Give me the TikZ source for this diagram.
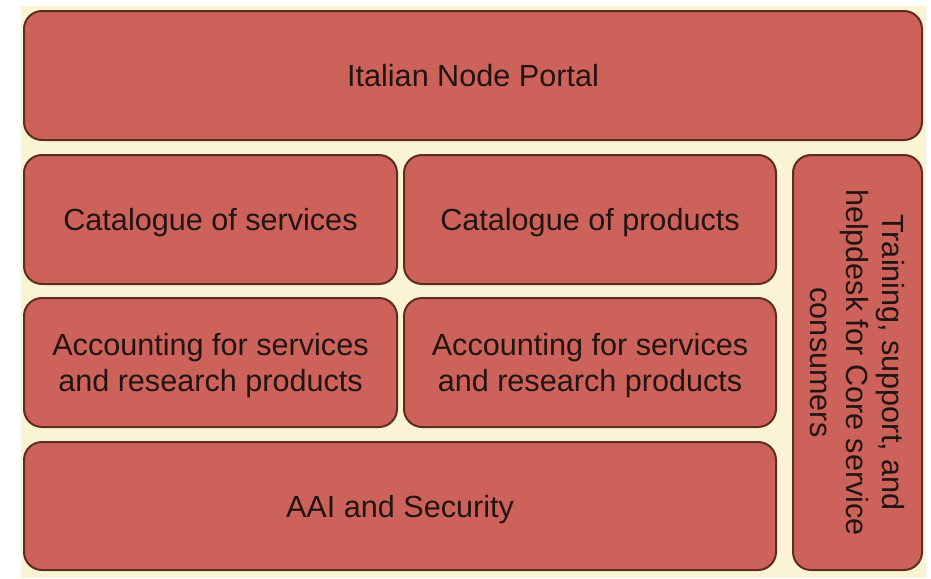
\documentclass[tikz,border=0pt]{standalone}
\usepackage{fontspec}
\setmainfont{Liberation Sans}
\definecolor{cream}{RGB}{250,244,212}
\definecolor{boxfill}{RGB}{205,98,90}
\definecolor{boxline}{RGB}{95,45,30}
\definecolor{boxtext}{RGB}{35,20,20}
\begin{document}
\begin{tikzpicture}[x=0.5pt,y=-0.5pt,
  box/.style={draw=boxline, fill=boxfill, line width=1pt, rounded corners=9pt,
    inner sep=0pt, outer sep=0pt, align=center, text=boxtext, text depth=0pt,
    font=\fontsize{15.3}{18}\selectfont},
  wide/.style={minimum width=#1*0.5pt},
  tall/.style={minimum height=#1*0.5pt}]
\fill[white] (0,0) rectangle (931,578);
\fill[cream] (21,6) rectangle (926,578);
\node[box, wide=898, tall=129] (portal) at (473,75.5) {Italian Node Portal};
\node[box, wide=373, tall=129] (catserv) at (210.5,219.5) {Catalogue of services};
\node[box, wide=372, tall=129] (catprod) at (590,219.5) {Catalogue of products};
\node[box, wide=373, tall=129] (accserv) at (210.5,362.5) {Accounting for services\\and research products};
\node[box, wide=372, tall=129] (accprod) at (590,362.5) {Accounting for services\\and research products};
\node[box, wide=752, tall=128] (aai) at (400,506) {AAI and Security};
\node[box, wide=415, tall=129, rotate=-90] (training) at (857.5,362.5) {Training, support, and\\helpdesk for Core service\\consumers};
\end{tikzpicture}
\end{document}
